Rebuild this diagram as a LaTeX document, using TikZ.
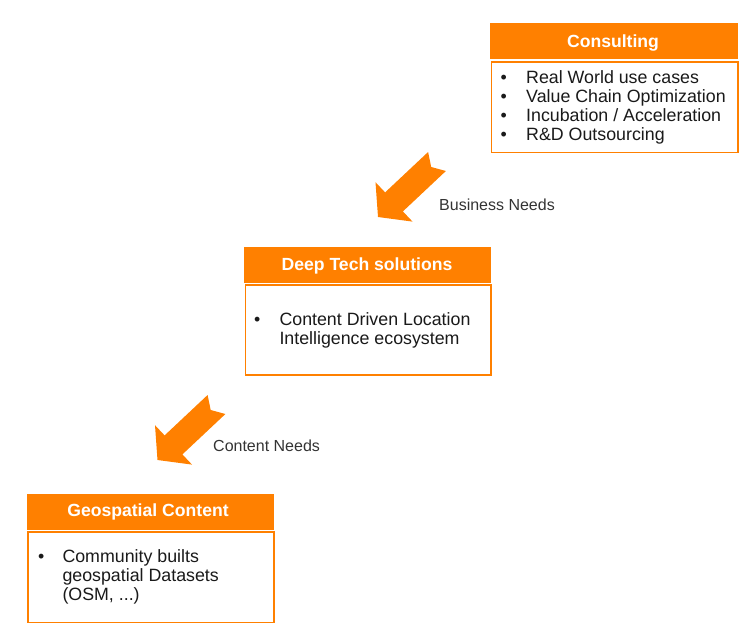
\documentclass[tikz,border=0pt]{standalone}
\usepackage{fontspec}
\setmainfont{Liberation Sans}
\definecolor{org}{RGB}{255,128,0}
\definecolor{txt}{HTML}{1A1A1A}
\definecolor{lbl}{HTML}{333333}
\tikzset{
  hdr/.style={fill=org, draw=none, inner sep=0pt, anchor=north west},
  bodybox/.style={draw=org, line width=1.5pt, fill=white, inner sep=0pt, anchor=north west},
  htext/.style={text=white, font=\fontsize{17.6}{20}\selectfont\bfseries, inner sep=0pt, anchor=base},
  btext/.style={text=txt, font=\fontsize{17.8}{19}\selectfont, inner sep=0pt, anchor=base west},
  lbltext/.style={text=lbl, font=\fontsize{16}{19}\selectfont, inner sep=0pt, anchor=base west},
  blockarrow/.style={fill=org, draw=none}
}
\begin{document}
\begin{tikzpicture}[x=1pt,y=-1pt]
\useasboundingbox (0,0) rectangle (750,638);
% Consulting
\node[hdr, minimum width=248pt, minimum height=36pt] (ch) at (490,23) {};
\node[htext] (cht) at (613,47) {Consulting};
\node[bodybox, minimum width=246.6pt, minimum height=90.5pt] (cb) at (490.7,61) {};
\node[btext] (cb0) at (500.5,83) {\textbullet};
\node[btext] (cb1) at (526,83) {Real World use cases};
\node[btext] (cb2) at (500.5,102) {\textbullet};
\node[btext] (cb3) at (526,102) {Value Chain Optimization};
\node[btext] (cb4) at (500.5,121) {\textbullet};
\node[btext] (cb5) at (526,121) {Incubation / Acceleration};
\node[btext] (cb6) at (500.5,140) {\textbullet};
\node[btext] (cb7) at (526,140) {R\&D Outsourcing};
% Deep Tech
\node[hdr, minimum width=247pt, minimum height=36pt] (dh) at (244,246.3) {};
\node[htext] (dht) at (367,270) {Deep Tech solutions};
\node[bodybox, minimum width=245.6pt, minimum height=90pt] (db) at (244.7,284.2) {};
\node[btext] (db0) at (254,325.3) {\textbullet};
\node[btext] (db1) at (279.3,325.3) {Content Driven Location};
\node[btext] (db2) at (279.3,344.3) {Intelligence ecosystem};
% Geospatial
\node[hdr, minimum width=247pt, minimum height=36pt] (gh) at (26.7,493.3) {};
\node[htext] (ght) at (148,516.7) {Geospatial Content};
\node[bodybox, minimum width=246pt, minimum height=90.3pt] (gb) at (27.4,531.2) {};
\node[btext] (gb0) at (38,562.5) {\textbullet};
\node[btext] (gb1) at (62.3,562.5) {Community builts};
\node[btext] (gb2) at (62.3,581.5) {geospatial Datasets};
\node[btext] (gb3) at (62.3,600.5) {(OSM, ...)};
% Arrows
\fill[blockarrow] (428.1,152) -- (431.2,167) -- (445.9,171) -- (402.9,211.4) -- (412.5,221.6)
  -- (378,217) -- (375.5,182.2) -- (385.1,192.4) -- cycle;
\node[lbltext] (bn) at (439,210) {Business Needs};
\begin{scope}[shift={(-220.5,243)}]
\fill[blockarrow] (428.1,152) -- (431.2,167) -- (445.9,171) -- (402.9,211.4) -- (412.5,221.6)
  -- (378,217) -- (375.5,182.2) -- (385.1,192.4) -- cycle;
\end{scope}
\node[lbltext] (cn) at (213,451.7) {Content Needs};
\end{tikzpicture}
\end{document}
